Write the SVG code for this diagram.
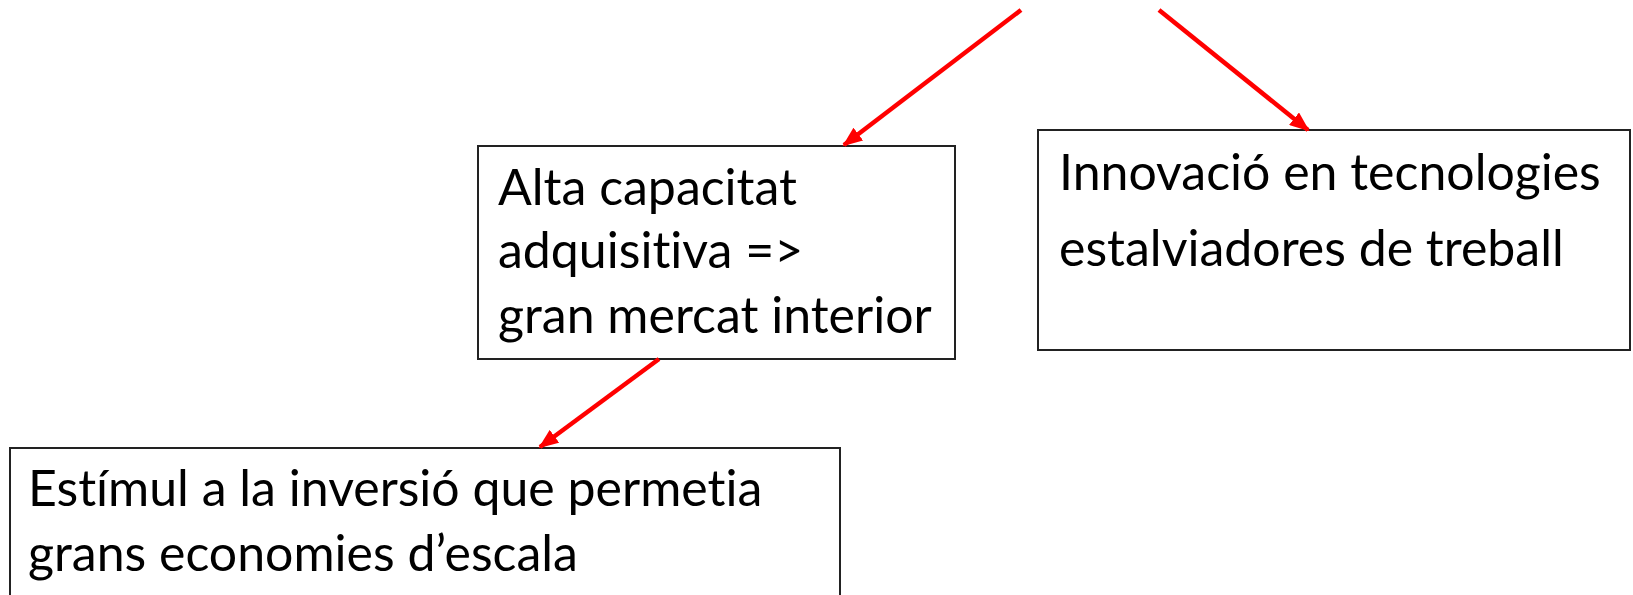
<svg xmlns="http://www.w3.org/2000/svg" width="1633" height="595" viewBox="0 0 1633 595">
<style>
.box{fill:#fff;stroke:#222;stroke-width:2}
.t{font-family:Lato,"Liberation Sans",sans-serif;font-size:50px;fill:#000;font-variant-ligatures:none;font-feature-settings:"liga" 0,"clig" 0}
.c{stroke:#f00;stroke-width:4.5;fill:none;marker-end:url(#ah)}
</style>
<defs>
<marker id="ah" markerUnits="userSpaceOnUse" markerWidth="20" markerHeight="16" refX="18" refY="8" orient="auto" viewBox="0 0 20 16">
<path d="M0,0 L20,8 L0,16 z" fill="#f00"/>
</marker>
</defs>
<rect width="1633" height="595" fill="#fff"/>
<g id="n-alta">
<rect class="box" x="478" y="146" width="477" height="213"/>
<text class="t" x="498" y="205">Alta capacitat</text>
<text class="t" x="498" y="268">adquisitiva =&gt;</text>
<text class="t" x="498" y="333">gran mercat interior</text>
</g>
<g id="n-innovacio">
<rect class="box" x="1038" y="130" width="592" height="220"/>
<text class="t" x="1059" y="190">Innovació en tecnologies</text>
<text class="t" x="1059" y="266">estalviadores de treball</text>
</g>
<g id="n-estimul">
<rect class="box" x="10" y="448" width="830" height="170"/>
<text class="t" x="28" y="506">Estímul a la inversió que permetia</text>
<text class="t" x="28" y="571">grans economies d’escala</text>
</g>
<g id="connectors">
<line class="c" x1="1021" y1="10" x2="844" y2="145"/>
<line class="c" x1="1159" y1="10" x2="1308" y2="130"/>
<line class="c" x1="659" y1="359" x2="540" y2="447"/>
</g>
</svg>
